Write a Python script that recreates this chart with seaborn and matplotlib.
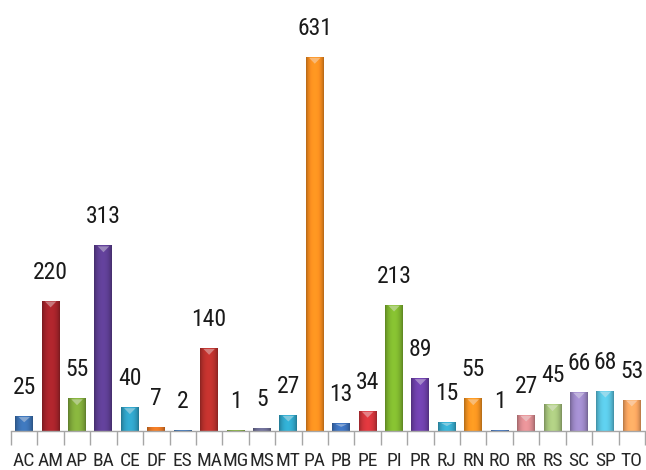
import numpy as np
import pandas as pd
import matplotlib
matplotlib.use("Agg")
import matplotlib.pyplot as plt
from matplotlib import font_manager
from matplotlib.colors import to_rgb
from matplotlib.patches import Polygon
from matplotlib.textpath import TextPath
import seaborn as sns

# Brazilian states and their counts
states = ["AC", "AM", "AP", "BA", "CE", "DF", "ES", "MA", "MG", "MS", "MT", "PA",
          "PB", "PE", "PI", "PR", "RJ", "RN", "RO", "RR", "RS", "SC", "SP", "TO"]
counts = [25, 220, 55, 313, 40, 7, 2, 140, 1, 5, 27, 631,
          13, 34, 213, 89, 15, 55, 1, 27, 45, 66, 68, 53]
bar_colors = ["#3B70B0", "#A3232A", "#7FA83A", "#5C3D90", "#2F9EC2", "#E07424",
              "#3B70B0", "#B8302C", "#7FA83A", "#6A6A90", "#2FA4C6", "#F38B1F",
              "#3C6FB8", "#D0343A", "#7DB32E", "#6B3FA6", "#36A7C8", "#F09020",
              "#3C6FB8", "#D98A8F", "#A5C27B", "#9A86C4", "#58C0DC", "#F5A35F"]

df = pd.DataFrame({"state": states, "count": counts})

SANS_FAMILIES = {
    "liberation sans", "liberation sans narrow", "roboto", "roboto condensed",
    "open sans", "open sans condensed", "open sans semicondensed",
    "noto sans", "noto sans condensed", "noto sans semicondensed",
    "noto sans extracondensed", "dejavu sans", "dejavu sans condensed",
    "lato", "inter",
}


def glyph_box(prop, s):
    ext = TextPath((0, 0), s, size=1, prop=prop).get_extents()
    return ext.width, ext.height


def narrow_font():
    """Pick the regular sans face whose digits are narrowest."""
    best = None
    for f in font_manager.fontManager.ttflist:
        if f.name.lower() not in SANS_FAMILIES:
            continue
        if f.style != "normal" or f.weight not in (400, "normal", "regular"):
            continue
        try:
            prop = font_manager.FontProperties(fname=f.fname)
            w, h = glyph_box(prop, "631")
        except Exception:
            continue
        if h <= 0 or w <= 0:
            continue
        ratio = w / h
        if best is None or ratio < best[0]:
            best = (ratio, f.fname)
    if best is None:
        return font_manager.FontProperties(family="Liberation Sans")
    return font_manager.FontProperties(fname=best[1])


base_font = narrow_font()
px_per_pt = 100 / 72

sns.set_theme(style="white")
plt.rcParams["font.family"] = ["Liberation Sans", "DejaVu Sans"]

fig = plt.figure(figsize=(6.46, 4.70), dpi=100)
ax = fig.add_axes([11 / 646, 39 / 470, 634 / 646, 431 / 470])

sns.barplot(data=df, x="state", y="count", hue="state", palette=bar_colors,
            legend=False, width=0.68, saturation=1, ax=ax)

ax.set_xlim(-0.5, len(states) - 0.5)
ax.set_ylim(0, 727)

# Shaded, bevelled look for each bar
prof = np.linspace(0, 1, 64)
shade = 0.70 + 0.40 * np.sin(np.pi * prof) ** 0.6
for patch, col in zip(ax.patches, bar_colors):
    x0 = patch.get_x()
    w = patch.get_width()
    h = patch.get_height()
    if h <= 0:
        continue
    rgb = np.array(to_rgb(col))
    img = np.clip(rgb[None, None, :] * shade[None, :, None], 0, 1)
    im = ax.imshow(img, extent=[x0, x0 + w, 0, h], aspect="auto",
                   interpolation="bicubic", zorder=patch.get_zorder() + 0.1)
    im.set_clip_path(patch)
    if h > 12:
        light = rgb + (1 - rgb) * 0.45
        cap = min(10, h * 0.35)
        tri = Polygon([[x0 + 0.18 * w, h - 1.5], [x0 + 0.82 * w, h - 1.5],
                       [x0 + 0.5 * w, h - 1.5 - cap]], closed=True,
                      facecolor=light, edgecolor="none", alpha=0.85,
                      zorder=patch.get_zorder() + 0.2)
        ax.add_patch(tri)

# Value labels above the bars: digits about 18 px tall
digit_h = glyph_box(base_font, "0")[1]
label_font = base_font.copy()
label_font.set_size(min(18 / (digit_h * px_per_pt), 17))
for i, v in enumerate(counts):
    ax.annotate(str(v), (i, v), xytext=(0, 22), textcoords="offset pixels",
                ha="center", va="baseline", fontproperties=label_font,
                color="#1a1a1a")

sns.despine(ax=ax, left=True, top=True, right=True)
ax.spines["bottom"].set_color("#A6A6A6")
ax.spines["bottom"].set_linewidth(1.0)
ax.set_yticks([])
ax.set_xlabel("")
ax.set_ylabel("")

# Category labels: capitals about 14 px tall
cap_h = glyph_box(base_font, "H")[1]
tick_font = base_font.copy()
tick_font.set_size(min(14 / (cap_h * px_per_pt), 14))
ax.set_xticks(range(len(states)))
ax.set_xticklabels(states, color="#262626")
for lab in ax.get_xticklabels():
    lab.set_fontproperties(tick_font)
ax.set_xticks(np.arange(-0.5, len(states), 1), minor=True)
ax.tick_params(axis="x", which="major", length=0, pad=15)
ax.tick_params(axis="x", which="minor", length=10, width=1, color="#A6A6A6",
               bottom=True)

fig.savefig("out.png", dpi=100)
